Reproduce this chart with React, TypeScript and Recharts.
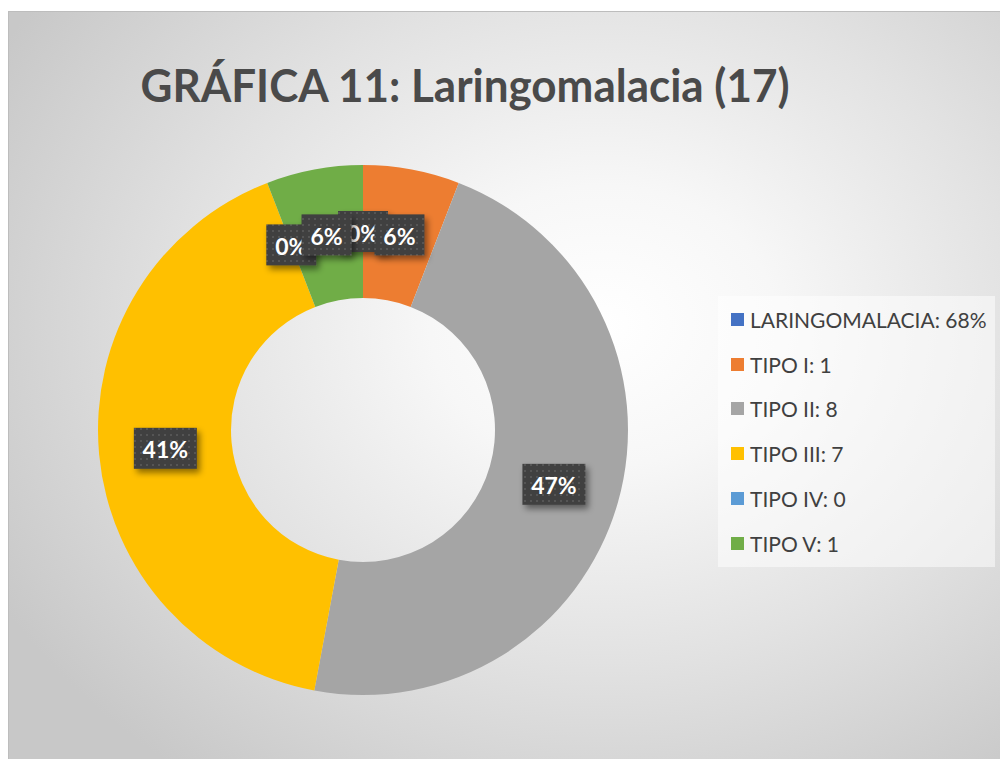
import { PieChart, Pie, Cell, Legend } from "recharts";

const categories = [
  "LARINGOMALACIA: 68%",
  "TIPO I: 1",
  "TIPO II: 8",
  "TIPO III: 7",
  "TIPO IV: 0",
  "TIPO V: 1",
];
const counts = [0, 1, 8, 7, 0, 1];
const colors = ["#4472C4", "#ED7D31", "#A5A5A5", "#FFC000", "#5B9BD5", "#70AD47"];
const title = "GRÁFICA 11: Laringomalacia (17)";

const data = categories.map((name, i) => ({ name, value: counts[i] }));

const RAD = Math.PI / 180;
const FONT = "Lato, 'Open Sans', sans-serif";

function BoxLabel(props: any) {
  const { cx, cy, midAngle, innerRadius, outerRadius, percent } = props;
  const r = (innerRadius + outerRadius) / 2;
  const x = cx + r * Math.cos(-midAngle * RAD);
  const y = cy + r * Math.sin(-midAngle * RAD);
  const text = `${Math.round((percent ?? 0) * 100)}%`;
  const w = text.length > 2 ? 63 : 50;
  const h = 41;
  return (
    <g>
      <rect
        x={x - w / 2}
        y={y - h / 2}
        width={w}
        height={h}
        fill="url(#dots)"
        filter="url(#lblShadow)"
      />
      <text
        x={x}
        y={y + 1}
        fill="#fff"
        fontFamily={FONT}
        fontWeight={700}
        fontSize={23}
        textAnchor="middle"
        dominantBaseline="central"
      >
        {text}
      </text>
    </g>
  );
}

function LegendBox({ payload }: { payload?: Array<{ value: string; color: string }> }) {
  return (
    <div
      style={{
        width: 277,
        height: 271,
        background: "rgba(255,255,255,0.5)",
        boxSizing: "border-box",
        paddingTop: 1,
      }}
    >
      {(payload ?? []).map((p) => (
        <div
          key={p.value}
          style={{
            display: "flex",
            alignItems: "center",
            height: 44.8,
            paddingLeft: 13,
            fontFamily: FONT,
            fontSize: 21,
            color: "#404040",
            whiteSpace: "nowrap",
          }}
        >
          <span
            style={{
              display: "inline-block",
              width: 13,
              height: 13,
              background: p.color,
              marginRight: 6,
            }}
          />
          {p.value}
        </div>
      ))}
    </div>
  );
}

export default function App() {
  return (
    <div style={{ position: "absolute", left: 0, top: 0, width: 1000, height: 759, background: "#fff" }}>
      <div
        style={{
          position: "absolute",
          left: 8,
          top: 11,
          width: 992,
          height: 748,
          borderTop: "1px solid #bdbdbd",
          borderLeft: "1px solid #bdbdbd",
          boxSizing: "border-box",
          background:
            "radial-gradient(ellipse 70% 75% at 60% 42%, #ffffff 0%, #f7f7f7 25%, #e2e2e2 60%, #c8c8c8 100%)",
        }}
      />
      <svg
        width={1000}
        height={140}
        style={{ position: "absolute", left: 0, top: 0 }}
      >
        <text
          x={465}
          y={102}
          textAnchor="middle"
          fontFamily={FONT}
          fontWeight={700}
          fontSize={46}
          fill="#4a4a4a"
          textLength={649}
          lengthAdjust="spacingAndGlyphs"
        >
          {title}
        </text>
      </svg>
      <div style={{ position: "absolute", left: 0, top: 0 }}>
        <PieChart width={1000} height={759} margin={{ top: 0, right: 0, bottom: 0, left: 0 }}>
          <defs>
            <pattern id="dots" width={6} height={6} patternUnits="userSpaceOnUse">
              <rect width={6} height={6} fill="#404040" />
              <rect x={2} y={2} width={2} height={2} fill="#555555" />
            </pattern>
            <filter id="lblShadow" x="-30%" y="-30%" width="170%" height="170%">
              <feDropShadow dx={3} dy={4} stdDeviation={3} floodColor="#000" floodOpacity={0.45} />
            </filter>
          </defs>
          <Pie
            data={data}
            dataKey="value"
            nameKey="name"
            cx={363}
            cy={430}
            innerRadius={132}
            outerRadius={265}
            startAngle={90}
            endAngle={-270}
            stroke="none"
            label={BoxLabel}
            labelLine={false}
            isAnimationActive={false}
          >
            {data.map((d, i) => (
              <Cell key={d.name} fill={colors[i]} />
            ))}
          </Pie>
          <Legend
            content={<LegendBox />}
            wrapperStyle={{ position: "absolute", left: 718, top: 296, width: 277, height: 271 }}
          />
        </PieChart>
      </div>
    </div>
  );
}
